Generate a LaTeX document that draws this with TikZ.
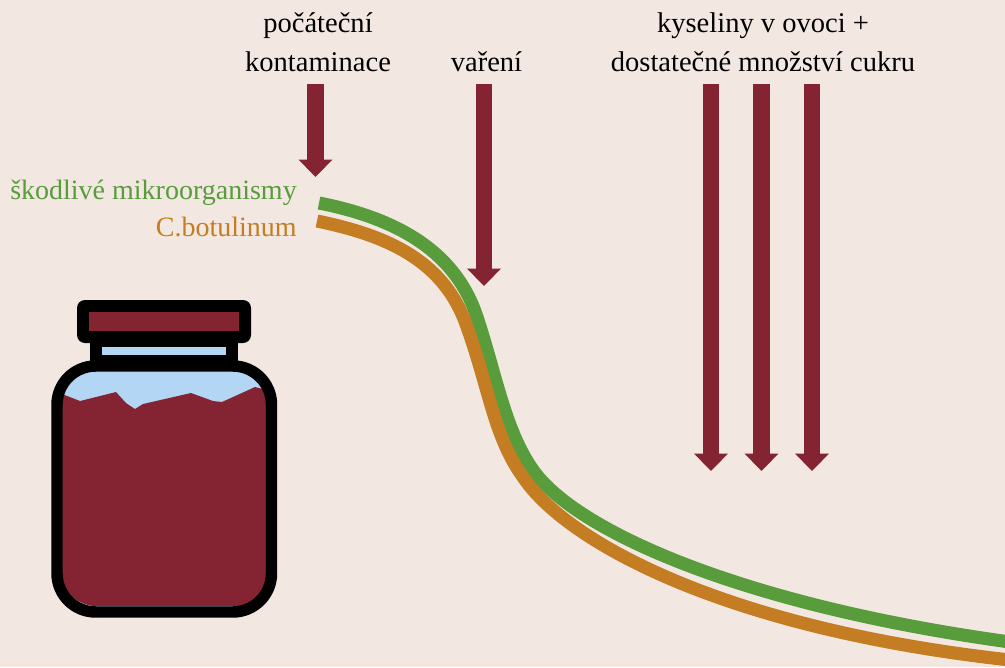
\documentclass[tikz,border=0pt]{standalone}
\usepackage{fontspec}
\setmainfont{Liberation Serif}
\usetikzlibrary{arrows.meta}
\definecolor{jambg}{HTML}{F2E8E1}
\definecolor{jamred}{HTML}{842331}
\definecolor{jamgreen}{HTML}{589C3B}
\definecolor{jamorange}{HTML}{C47D22}
\definecolor{jamblue}{HTML}{B3D6F5}
\tikzset{
  lbl/.style={font=\fontsize{21.4}{28.5}\selectfont, align=center, inner sep=0pt, text=black},
  sidelbl/.style={font=\fontsize{21}{28.5}\selectfont, anchor=base east, inner sep=0pt},
  downarrow/.style={draw=jamred, line width=12.6pt, -{Triangle[width=24.6pt,length=13pt]}},
  curve/.style={line width=9.8pt},
  jaredge/.style={draw=black, line width=8.6pt, line join=round}
}
\begin{document}
\begin{tikzpicture}[x=0.75pt,y=-0.75pt]
  \fill[jambg] (0,0) rectangle (1005,667);
  \useasboundingbox (0,0) rectangle (1005,667);
  % labels
  \node[lbl, anchor=base] (contam) at (318,71) {počáteční\\kontaminace};
  \node[lbl, anchor=base] (cook) at (486.5,71) {vaření};
  \node[lbl, anchor=base] (acid) at (763,71) {kyseliny v ovoci +\\dostatečné množství cukru};
  \node[sidelbl, text=jamgreen] (harm) at (297,199) {škodlivé mikroorganismy};
  \node[sidelbl, text=jamorange] (botu) at (297,236) {C.botulinum};
  % arrows
  \foreach \n/\x/\y in {a/315.5/177,b/484/286,c/711/471,d/761.5/471,e/812/471}{
    \coordinate (top\n) at (\x,84);
    \coordinate (tip\n) at (\x,\y);
    \draw[downarrow] (top\n) -- (tip\n);
  }
  % the two curves
  \draw[curve, jamgreen] (319,203) .. controls (395,218) and (455,250) .. (477,317)
    .. controls (497,378) and (505,430) .. (533,470)
    .. controls (575,530) and (740,605) .. (1010,642);
  \draw[curve, jamorange] (317,221) .. controls (390,236) and (445,262) .. (467,327)
    .. controls (489,388) and (494,437) .. (523,477)
    .. controls (565,540) and (720,628) .. (1010,660);
  % jar
  \fill[jamblue, rounded corners=29pt] (57,366) rectangle (271.5,612);
  \fill[jamred] (62,394) -- (80,401) -- (116,392) -- (126,403) -- (135,409) -- (143,404)
    -- (191,393) -- (213,401) -- (222,402) -- (233,397) -- (255,387) -- (267,390)
    -- (266,583) .. controls (262,595) and (252,603) .. (241,606) -- (93,606)
    .. controls (75,603) and (64,592) .. (61,575) -- cycle;
  \fill[black] (90,335) rectangle (238,366);
  \fill[jamblue] (102,347) rectangle (226,355);
  \fill[black, rounded corners=6pt] (77,300) rectangle (251,343);
  \fill[jamred] (89,312) rectangle (239,331);
  \draw[jaredge, rounded corners=29pt] (57,366) rectangle (271.5,612);
\end{tikzpicture}
\end{document}
